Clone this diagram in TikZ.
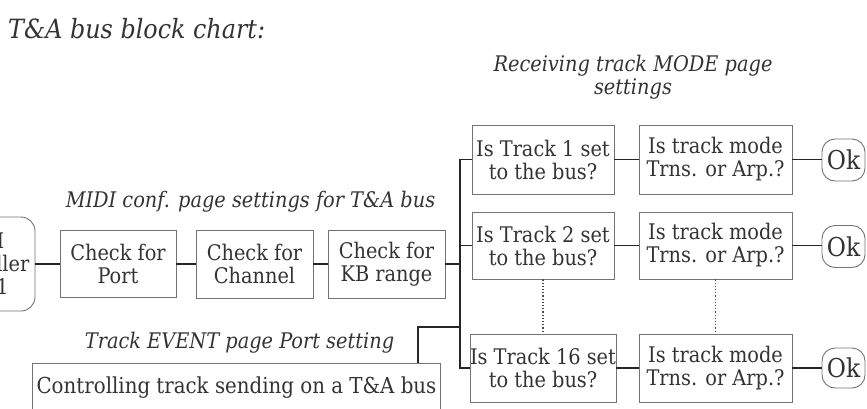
\documentclass[tikz,border=0pt]{standalone}
\usepackage{fontspec}
\setmainfont{DejaVu Serif Condensed}
\begin{document}
\begin{tikzpicture}[x=1pt,y=-1pt,
  every node/.style={text=black!80, font=\fontsize{21.5}{23}\selectfont},
  blk/.style={draw=black!55, line width=0.9pt, align=center, inner sep=0pt, minimum height=68pt},
  term/.style={blk, rounded corners=14pt},
  okbox/.style={term, minimum width=43pt, minimum height=42pt, rounded corners=13pt, font=\fontsize{26}{28}\selectfont},
  lbl/.style={font=\fontsize{21.5}{23}\selectfont\itshape, align=center, inner sep=0pt},
  wire/.style={draw=black!85, line width=1.8pt}]
\useasboundingbox (0,0) rectangle (867,408);
\begin{scope}
\clip (0,0) rectangle (867,408);
\node[lbl, anchor=west, font=\fontsize{26.5}{30}\selectfont\itshape] (title) at (8,29) {T\&A bus block chart:};
\node[lbl] (midil) at (250.5,202) {MIDI conf. page settings for T\&A bus};
\node[lbl] (evl) at (239.5,343) {Track EVENT page Port setting};
\node[lbl] (recl) at (633,77) {Receiving track MODE page\\settings};

\node[term, minimum width=112pt, minimum height=94pt] (ctrl) at (-21,264) {MIDI\\Controller\\Port 1};
\node[blk, minimum width=116pt, minimum height=67pt] (port) at (118,264) {Check for\\Port};
\node[blk, minimum width=117pt] (chan) at (254.5,264) {Check for\\Channel};
\node[blk, minimum width=117pt] (kb) at (386.5,264) {Check for\\KB range};

\node[blk, minimum width=142pt, minimum height=69pt] (t1) at (543,159.5) {Is Track 1 set\\to the bus?};
\node[blk, minimum width=153pt, minimum height=69pt] (m1) at (715.5,159.5) {Is track mode\\Trns. or Arp.?};
\node[okbox] (ok1) at (843.5,160) {Ok};

\node[blk, minimum width=142pt, minimum height=67pt] (t2) at (543,245.5) {Is Track 2 set\\to the bus?};
\node[blk, minimum width=153pt, minimum height=67pt] (m2) at (715.5,245.5) {Is track mode\\Trns. or Arp.?};
\node[okbox] (ok2) at (843.5,246.5) {Ok};

\node[blk, minimum width=142pt] (t16) at (543,368) {Is Track 16 set\\to the bus?};
\node[blk, minimum width=153pt] (m16) at (715.5,368) {Is track mode\\Trns. or Arp.?};
\node[okbox, minimum height=40pt] (ok16) at (843.5,368) {Ok};

\node[blk, minimum width=408pt, minimum height=49pt, anchor=north west, font=\fontsize{22}{24}\selectfont] (ctl) at (32,363) {\raisebox{-2pt}{Controlling track sending on a T\&A bus}};

\coordinate (bt) at (460,159.5);
\coordinate (bb) at (460,368);
\coordinate (cj) at (418,327);

\path[wire] (ctrl.east) -- (port.west);
\path[wire] (port.east) -- (chan.west);
\path[wire] (chan.east) -- (kb.east -| kb.west);
\path[wire] (kb.east) -- (kb.east -| bt);
\path[wire] (t1.west) -- (bt) -- (bb) -- (t16.west);
\path[wire] (t2.west -| bt) -- (t2.west);
\path[wire] (ctl.north -| cj) -- (cj) -- (cj -| bt);
\path[wire] (t1.east) -- (m1.west);
\path[wire] (m1.east) -- (m1.east -| ok1.west);
\path[wire] (t2.east) -- (m2.west);
\path[wire] (m2.east) -- (m2.east -| ok2.west);
\path[wire] (t16.east) -- (m16.west);
\path[wire] (m16.east) -- (ok16.west);
\draw[black!70, line width=1.2pt, dotted] (t2.south) -- (t16.north);
\draw[black!70, line width=1.2pt, dotted] (m2.south) -- (m16.north);
\end{scope}
\end{tikzpicture}
\end{document}
